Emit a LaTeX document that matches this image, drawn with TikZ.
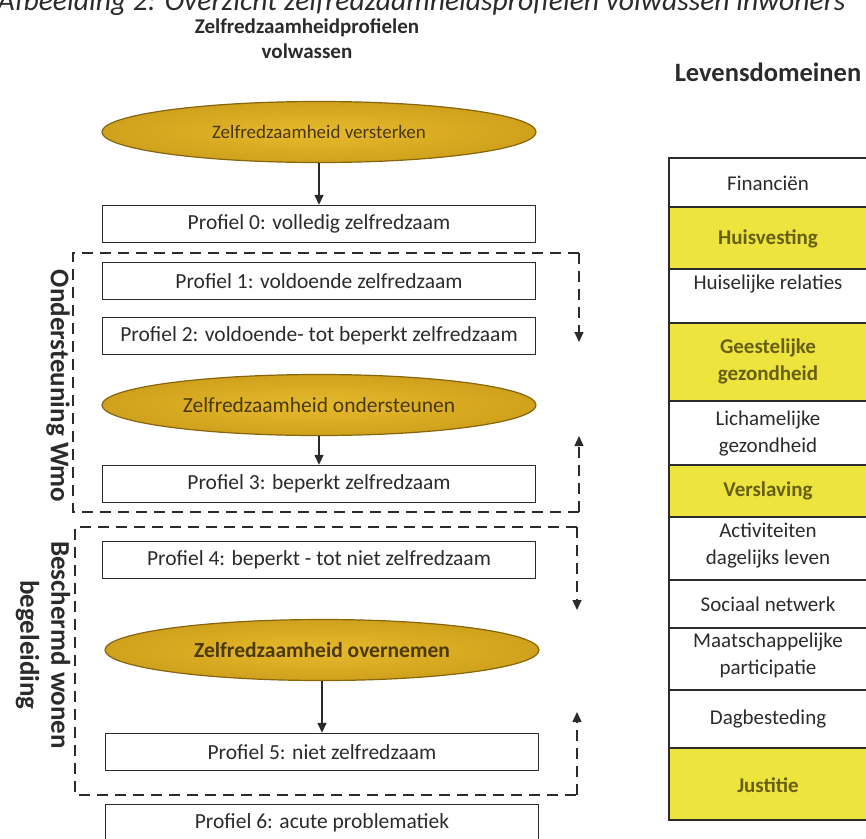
\documentclass[tikz,border=0pt]{standalone}
\usepackage{fontspec}
\setmainfont{Carlito}
\usetikzlibrary{arrows.meta,shapes.geometric,positioning}
\definecolor{ink}{HTML}{2B2B2B}
\definecolor{gold}{HTML}{E6BA2C}
\definecolor{goldrim}{HTML}{D0A11C}
\definecolor{golddark}{HTML}{85650E}
\definecolor{goldtext}{HTML}{4A3805}
\definecolor{lemon}{HTML}{EEE43E}
\definecolor{olive}{HTML}{676013}

\begin{document}
\begin{tikzpicture}[x=1pt,y=-1pt,>={Triangle[length=10pt,width=9pt]},
  prof/.style={draw=ink,line width=1.4pt,minimum width=433pt,minimum height=37pt,font=\fontsize{21.5}{24}\selectfont,text=ink},
  zr/.style={ellipse,draw=golddark,line width=1.2pt,inner color=gold,outer color=goldrim,minimum width=434pt,minimum height=61pt,font=\fontsize{21.5}{24}\selectfont,text=goldtext},
  grp/.style={draw=ink,line width=1.4pt,dash pattern=on 11pt off 7pt},
  dom/.style={draw=ink,line width=1.4pt},
  hl/.style={dom,fill=lemon},
  dom txt/.style={align=center,font=\fontsize{21}{27}\selectfont,text=ink},
  hl txt/.style={align=center,font=\fontsize{21}{27}\selectfont\bfseries,text=olive},
  side/.style={rotate=-90,align=center,font=\fontsize{27}{31}\selectfont\bfseries,text=ink}]
 \useasboundingbox (0,0) rectangle (866,838);
 \node[anchor=base east,font=\fontsize{29.6}{33}\selectfont\itshape,text=ink] (cap) at (849,10) {Afbeelding 2: Overzicht zelfredzaamheidsprofielen volwassen inwoners};
 % left column
 \node[align=center,font=\fontsize{21}{25}\selectfont\bfseries,text=ink] (tit) at (307,39) {Zelfredzaamheidprofielen\\volwassen};
 \node[zr,font=\fontsize{19}{22}\selectfont] (zr1) at (319,132) {Zelfredzaamheid versterken};
 \node[prof] (p0) at (319,224) {Profiel 0: volledig zelfredzaam};
 \node[prof] (p1) at (319,281) {Profiel 1: voldoende zelfredzaam};
 \node[prof] (p2) at (319,336) {Profiel 2: voldoende- tot beperkt zelfredzaam};
 \node[zr] (zr2) at (319,405) {Zelfredzaamheid ondersteunen};
 \node[prof] (p3) at (319,484) {Profiel 3: beperkt zelfredzaam};
 \node[prof] (p4) at (319,560) {Profiel 4: beperkt - tot niet zelfredzaam};
 \node[zr,font=\fontsize{21.5}{24}\selectfont\bfseries] (zr3) at (322,650) {Zelfredzaamheid overnemen};
 \node[prof] (p5) at (322,752) {Profiel 5: niet zelfredzaam};
 \node[prof] (p6) at (322,823) {Profiel 6: acute problematiek};
 \draw[->,ink,line width=1.4pt](zr1)--(p0);
 \draw[->,ink,line width=1.4pt](zr2)--(p3);
 \draw[->,ink,line width=1.4pt](zr3)--(p5);
 % dashed groups
 \coordinate (wNE) at (579,253); \coordinate (wSE) at (579,512);
 \coordinate (wDn) at (579,342); \coordinate (wUp) at (579,436);
 \coordinate (bNE) at (577,527); \coordinate (bSE) at (577,795);
 \coordinate (bDn) at (577,610); \coordinate (bUp) at (577,712);
 \draw[grp](wNE)--(73,253)--(73,512)--(wSE);
 \draw[grp,->](wNE)--(wDn);
 \draw[grp,->](wSE)--(wUp);
 \draw[grp](bNE)--(75,527)--(75,795)--(bSE);
 \draw[grp,->](bNE)--(bDn);
 \draw[grp,->](bSE)--(bUp);
 \node[side] (wmo) at (58,386) {Ondersteuning Wmo};
 \node[side] (bw) at (43,645) {Beschermd wonen\\begeleiding};
 % levensdomeinen
 \node[font=\fontsize{26.5}{30}\selectfont\bfseries,text=ink] (lev) at (768,72) {Levensdomeinen};
 \foreach \y/\h/\c/\s/\t in {158/49/183/dom/{Financiën},207/62/239/hl/{Huisvesting},269/54/284/dom/{Huiselijke relaties},
   323/78/361/hl/{Geestelijke\\gezondheid},401/64/434/dom/{Lichamelijke\\gezondheid},465/52/491/hl/{Verslaving},
   517/63/546/dom/{Activiteiten\\dagelijks leven},580/48/604/dom/{Sociaal netwerk},628/62/655/dom/{Maatschappelijke\\participatie},
   690/58/719/dom/{Dagbesteding},748/72/785/hl/{Justitie}}{
  \draw[\s](669,\y)rectangle++(220,\h);
  \node[\s\space txt] (ld\y) at (768,\c) {\t};
 }
\end{tikzpicture}
\end{document}
